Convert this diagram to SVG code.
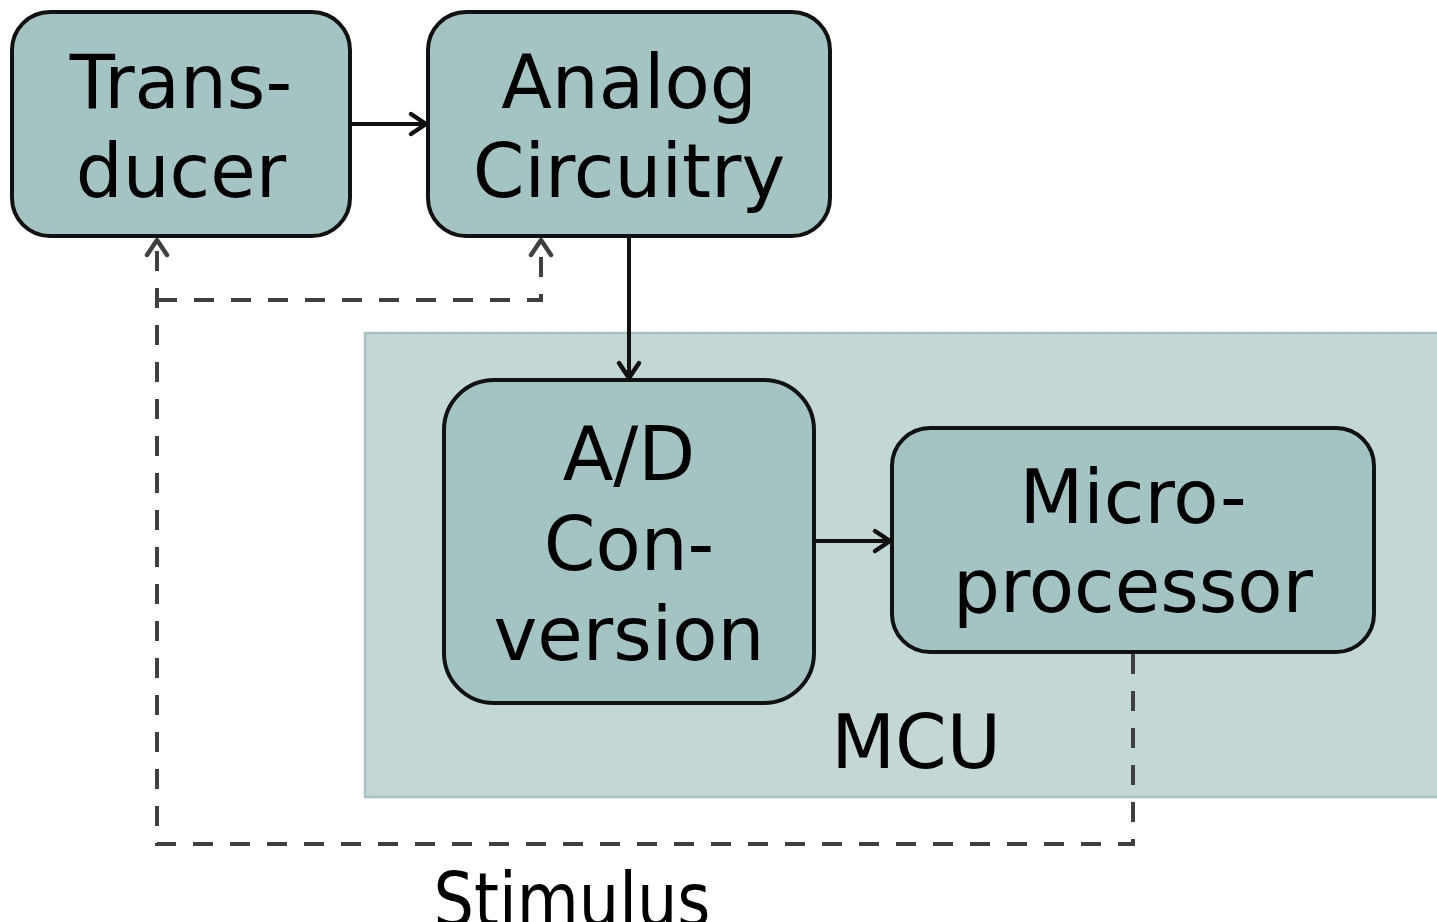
<svg xmlns="http://www.w3.org/2000/svg" width="1437" height="922" viewBox="0 0 1437 922">
<defs>
<marker id="ah" markerUnits="userSpaceOnUse" markerWidth="30" markerHeight="30" viewBox="-20 -15 25 30" refX="0" refY="0" orient="auto">
<path d="M -15 -10 L 0 0 L -15 10" fill="none" stroke="#111" stroke-width="4.5" stroke-linecap="round" stroke-linejoin="round"/>
</marker>
<marker id="ahd" markerUnits="userSpaceOnUse" markerWidth="30" markerHeight="30" viewBox="-20 -15 25 30" refX="0" refY="0" orient="auto">
<path d="M -15 -10 L 0 0 L -15 10" fill="none" stroke="#404040" stroke-width="4.5" stroke-linecap="round" stroke-linejoin="round"/>
</marker>
</defs>
<style>
.box{fill:#a4c4c3;stroke:#111;stroke-width:4}
.t{font-family:"DejaVu Sans",sans-serif;font-size:74px;fill:#000;text-anchor:middle}
.solid{fill:none;stroke:#111;stroke-width:4}
.dash{fill:none;stroke:#404040;stroke-width:4;stroke-dasharray:20 17}
</style>
<rect width="1437" height="922" fill="#fff"/>
<g id="mcu">
<rect x="365" y="333" width="1080" height="464" fill="#c3d7d6" stroke="#a6c4c3" stroke-width="2.5"/>
<text class="t" x="916" y="768">MCU</text>
</g>
<g id="connectors">
<line class="solid" x1="350" y1="124" x2="426" y2="124" marker-end="url(#ah)"/>
<line class="solid" x1="629" y1="236" x2="629" y2="378" marker-end="url(#ah)"/>
<line class="solid" x1="814" y1="541" x2="890" y2="541" marker-end="url(#ah)"/>
<path class="dash" d="M 1133 654 L 1133 844 L 157 844 L 157 240" marker-end="url(#ahd)"/>
<path class="dash" d="M 157 300 L 541 300 L 541 240" marker-end="url(#ahd)"/>
<text class="t" x="572" y="926" textLength="277" lengthAdjust="spacingAndGlyphs">Stimulus</text>
</g>
<g id="transducer">
<rect class="box" x="12" y="12" width="338" height="224" rx="38"/>
<text class="t" x="181" y="108">Trans-</text>
<text class="t" x="181" y="197">ducer</text>
</g>
<g id="analog">
<rect class="box" x="428" y="12" width="402" height="224" rx="38"/>
<text class="t" x="629" y="108">Analog</text>
<text class="t" x="629" y="197">Circuitry</text>
</g>
<g id="adc">
<rect class="box" x="444" y="380" width="370" height="323" rx="50"/>
<text class="t" x="629" y="480">A/D</text>
<text class="t" x="629" y="570">Con-</text>
<text class="t" x="629" y="660">version</text>
</g>
<g id="micro">
<rect class="box" x="892" y="428" width="482" height="224" rx="38"/>
<text class="t" x="1133" y="523">Micro-</text>
<text class="t" x="1133" y="612">processor</text>
</g>
</svg>
